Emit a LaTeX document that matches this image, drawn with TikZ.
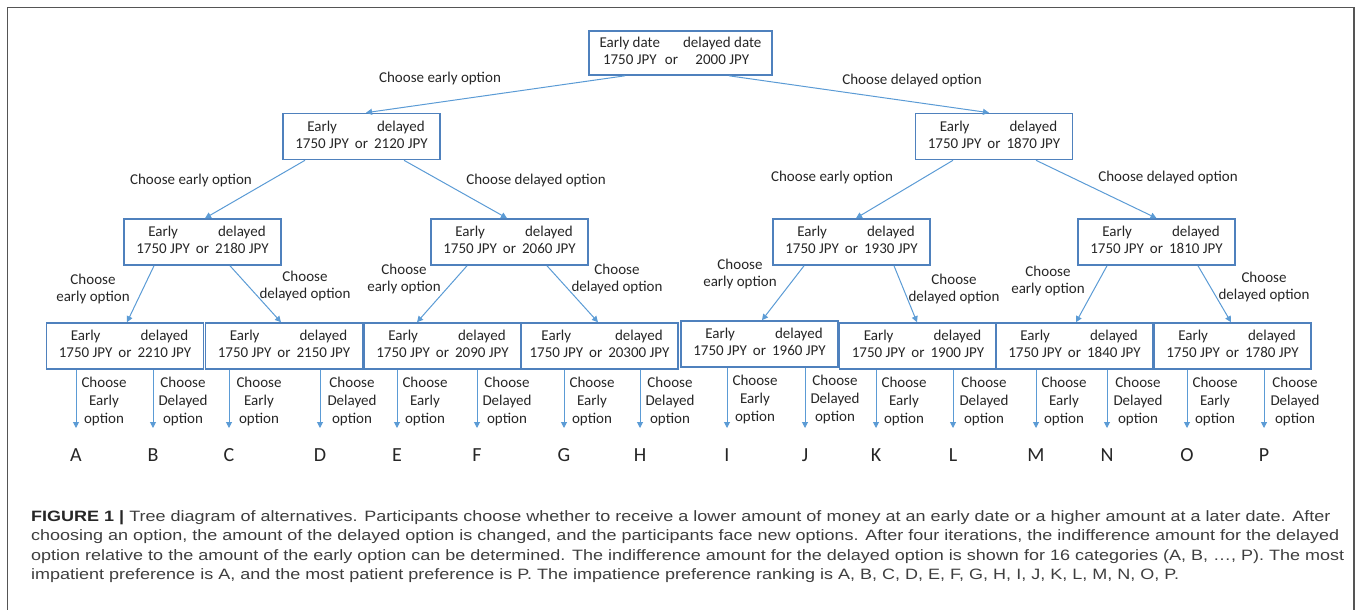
\documentclass[tikz,border=0pt]{standalone}
\usepackage{fontspec}
\setmainfont{Carlito}
\newfontfamily\capfont[FakeStretch=1.2]{Liberation Sans}
\usetikzlibrary{positioning, arrows.meta}

\definecolor{boxblue}{RGB}{79,129,189}
\definecolor{arrowblue}{RGB}{91,155,213}
\definecolor{textgray}{RGB}{38,38,38}
\definecolor{framegray}{RGB}{85,85,85}
\definecolor{captext}{RGB}{62,62,62}

\newcommand{\offer}[1]{\begin{tabular}{@{}c@{\hspace{6pt}}c@{\hspace{6pt}}c@{}}Early & & delayed\\1750 JPY & or & #1 JPY\end{tabular}}

\tikzset{
	choice/.style={draw=boxblue, line width=1.6pt, minimum width=157pt, minimum height=46pt, inner sep=0pt, text=textgray},
	pick/.style={color=arrowblue, line width=1pt, -{Triangle[length=6pt,width=6pt]}},
	lbl/.style={text=textgray, align=center, inner sep=0pt, font=\fontsize{15}{17}\selectfont},
	tag/.style={text=textgray, align=center, inner sep=0pt, font=\fontsize{15}{18}\selectfont},
	leaf/.style={text=textgray, inner sep=0pt, anchor=north, text height=13pt, text depth=0pt, font=\fontsize{20}{20}\selectfont},
	capline/.style={anchor=base west, inner sep=0pt, text=captext, font=\capfont\fontsize{15}{18}\selectfont}
}

\begin{document}
\begin{tikzpicture}[x=1pt, y=-1pt, font=\fontsize{15}{17}\selectfont]
			\useasboundingbox (0,0) rectangle (1357,610);
			\draw[framegray, line width=1.5pt] (7.5,7.5) rectangle (1354,640);
			
			% offers
			\node[choice, minimum width=183pt, minimum height=44pt] (top) at (680.5,53)
				{\begin{tabular}{@{}c@{\hspace{5pt}}c@{\hspace{5pt}}c@{}}Early date & & delayed date\\1750 JPY & or & 2000 JPY\end{tabular}};
			\node[choice] (e1) at (361.5,136.5) {\offer{2120}};
			\node[choice] (d1) at (994,136.5) {\offer{1870}};
			\node[choice] (ee) at (202.5,242) {\offer{2180}};
			\node[choice] (ed) at (509.5,242) {\offer{2060}};
			\node[choice] (de) at (851.5,242) {\offer{1930}};
			\node[choice] (dd) at (1156.5,242) {\offer{1810}};
			\node[choice] (eee) at (125,346) {\offer{2210}};
			\node[choice] (eed) at (284,346) {\offer{2150}};
			\node[choice] (ede) at (442.5,346) {\offer{2090}};
			\node[choice] (edd) at (599.5,346) {\offer{20300}};
			\node[choice] (dee) at (759.5,344) {\offer{1960}};
			\node[choice] (ded) at (918,346) {\offer{1900}};
			\node[choice] (dde) at (1074.5,346) {\offer{1840}};
			\node[choice] (ddd) at (1232.5,346) {\offer{1780}};
			
			% branch labels
			\node[lbl] (l0e) at (440,79) {Choose early option};
			\node[lbl] (l0d) at (912,81) {Choose delayed option};
			\node[lbl] (l1ee) at (191,180) {Choose early option};
			\node[lbl] (l1ed) at (536,180) {Choose delayed option};
			\node[lbl] (l1de) at (832,177) {Choose early option};
			\node[lbl] (l1dd) at (1168,177) {Choose delayed option};
			\node[lbl] (l2eee) at (93,289) {Choose\\early option};
			\node[lbl] (l2eed) at (305,286) {Choose\\delayed option};
			\node[lbl] (l2ede) at (404,279) {Choose\\early option};
			\node[lbl] (l2edd) at (617,279) {Choose\\delayed option};
			\node[lbl] (l2dee) at (740,274) {Choose\\early option};
			\node[lbl] (l2ded) at (954,289) {Choose\\delayed option};
			\node[lbl] (l2dde) at (1048,281) {Choose\\early option};
			\node[lbl] (l2ddd) at (1264,287) {Choose\\delayed option};
			
			% outcomes
			\node[leaf] (A) at (76,448) {A};
			\node[leaf] (B) at (153,448) {B};
			\node[leaf] (C) at (229,448) {C};
			\node[leaf] (D) at (320,448) {D};
			\node[leaf] (E) at (397,448) {E};
			\node[leaf] (F) at (477,448) {F};
			\node[leaf] (G) at (564,448) {G};
			\node[leaf] (H) at (640,448) {H};
			\node[leaf] (I) at (727,448) {I};
			\node[leaf] (J) at (805,448) {J};
			\node[leaf] (K) at (876,448) {K};
			\node[leaf] (L) at (953,448) {L};
			\node[leaf] (M) at (1036,448) {M};
			\node[leaf] (N) at (1107,448) {N};
			\node[leaf] (O) at (1187,448) {O};
			\node[leaf] (P) at (1264,448) {P};
			
			\path[pick]
			([xshift=-55.5pt]top.south) edge ([xshift=4.5pt]e1.north)
			([xshift=48.5pt]top.south) edge ([xshift=-5pt]d1.north)
			([xshift=-56.5pt]e1.south) edge ([xshift=2.5pt]ee.north)
			([xshift=42.5pt]e1.south) edge ([xshift=-2.5pt]ed.north)
			([xshift=-41pt]d1.south) edge ([xshift=4.5pt]de.north)
			([xshift=42pt]d1.south) edge (dd.north)
			([xshift=-48.5pt]ee.south) edge ([xshift=2pt]eee.north)
			([xshift=27.5pt]ee.south) edge ([xshift=-3pt]eed.north)
			([xshift=-42.5pt]ed.south) edge ([xshift=-25.5pt]ede.north)
			([xshift=37.5pt]ed.south) edge ([xshift=-1.5pt]edd.north)
			([xshift=-47.5pt]de.south) edge ([xshift=2.5pt]dee.north)
			([xshift=42.5pt]de.south) edge ([xshift=-1pt]ded.north)
			([xshift=-49.5pt]dd.south) edge ([xshift=1.5pt]dde.north)
			([xshift=41.5pt]dd.south) edge ([xshift=-1.5pt]ddd.north);
			
			\path[pick, shorten >=20pt]
			(A |- eee.south) edge node[tag, right=5pt, pos=0.4] {Choose\\Early\\option} (A.north)
			(B |- eee.south) edge node[tag, right=5pt, pos=0.4] {Choose\\Delayed\\option} (B.north)
			(C |- eed.south) edge node[tag, right=7pt, pos=0.4] {Choose\\Early\\option} (C.north)
			(D |- eed.south) edge node[tag, right=7pt, pos=0.4] {Choose\\Delayed\\option} (D.north)
			(E |- ede.south) edge node[tag, right=5pt, pos=0.4] {Choose\\Early\\option} (E.north)
			(F |- ede.south) edge node[tag, right=5pt, pos=0.4] {Choose\\Delayed\\option} (F.north)
			(G |- edd.south) edge node[tag, right=5pt, pos=0.4] {Choose\\Early\\option} (G.north)
			(H |- edd.south) edge node[tag, right=5pt, pos=0.4] {Choose\\Delayed\\option} (H.north)
			(I |- dee.south) edge node[tag, right=5pt, pos=0.4] {Choose\\Early\\option} (I.north)
			(J |- dee.south) edge node[tag, right=5pt, pos=0.4] {Choose\\Delayed\\option} (J.north)
			(K |- ded.south) edge node[tag, right=5pt, pos=0.4] {Choose\\Early\\option} (K.north)
			(L |- ded.south) edge node[tag, right=6pt, pos=0.4] {Choose\\Delayed\\option} (L.north)
			(M |- dde.south) edge node[tag, right=5pt, pos=0.4] {Choose\\Early\\option} (M.north)
			(N |- dde.south) edge node[tag, right=6pt, pos=0.4] {Choose\\Delayed\\option} (N.north)
			(O |- ddd.south) edge node[tag, right=5pt, pos=0.4] {Choose\\Early\\option} (O.north)
			(P |- ddd.south) edge node[tag, right=6pt, pos=0.4] {Choose\\Delayed\\option} (P.north);
			
			% caption
			\node[capline] (cap1) at (31,521) {{\color{textgray}\textbf{FIGURE 1 |}} Tree diagram of alternatives. Participants choose whether to receive a lower amount of money at an early date or a higher amount at a later date. After};
			\node[capline] (cap2) at (31,540.5) {choosing an option, the amount of the delayed option is changed, and the participants face new options. After four iterations, the indifference amount for the delayed};
			\node[capline] (cap3) at (31,560) {option relative to the amount of the early option can be determined. The indifference amount for the delayed option is shown for 16 categories (A, B, …, P). The most};
			\node[capline] (cap4) at (31,579.5) {impatient preference is A, and the most patient preference is P. The impatience preference ranking is A, B, C, D, E, F, G, H, I, J, K, L, M, N, O, P.};
		\end{tikzpicture}
\end{document}
